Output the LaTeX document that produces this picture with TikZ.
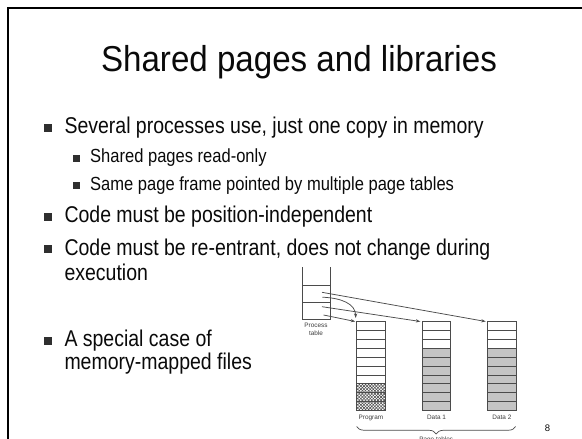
\documentclass[tikz,border=0pt]{standalone}
\usepackage{fontspec}
\setmainfont{Liberation Sans}
\newfontfamily\titlefont[FakeStretch=0.92]{Liberation Sans}
\newfontfamily\bodyfont[FakeStretch=0.855]{Liberation Sans}
\newfontfamily\subfont[FakeStretch=0.87]{Liberation Sans}
\usetikzlibrary{patterns.meta,decorations.pathreplacing,arrows.meta}
\definecolor{figline}{RGB}{75,75,75}
\definecolor{figgray}{RGB}{196,196,196}
\definecolor{textc}{RGB}{10,10,10}
\tikzset{
  bulone/.style={fill=textc!85, minimum size=8pt, inner sep=0pt, outer sep=0pt},
  bultwo/.style={fill=textc!85, minimum size=6.5pt, inner sep=0pt, outer sep=0pt},
  lvlone/.style={anchor=base west, inner sep=0pt, text=textc, font=\bodyfont\fontsize{22.8}{27}\selectfont},
  lvltwo/.style={anchor=base west, inner sep=0pt, text=textc, font=\subfont\fontsize{19}{22}\selectfont},
  figlabel/.style={anchor=base, inner sep=0pt, text=figline!80!black, font=\fontsize{6.4}{7.5}\selectfont},
  memcol/.style={draw=figline, line width=0.8pt, minimum width=28.4pt, minimum height=89pt, inner sep=0pt, outer sep=0pt},
  ptr/.style={draw=figline, line width=0.75pt, -{Stealth[length=4.5pt,width=3.2pt]}},
}
\begin{document}
\begin{tikzpicture}[x=1pt,y=-1pt]
\useasboundingbox (0,0) rectangle (582,439);
\clip (0,0) rectangle (582,439);
% slide frame
\draw[line width=2pt, black] (7.5,440) -- (7.5,7.5) -- (583,7.5);
% title
\node[anchor=base, inner sep=0pt, text=textc, font=\titlefont\fontsize{36}{43}\selectfont] (title) at (299,71.7) {Shared pages and libraries};
% bullets
\node[bulone] (s1) at (48,127.5) {};
\node[lvlone] (t1) at (64.3,133.3) {Several processes use, just one copy in memory};
\node[bultwo] (s2) at (76.7,158.4) {};
\node[lvltwo] (t2) at (90,162.7) {Shared pages read-only};
\node[bultwo] (s3) at (76.7,185.7) {};
\node[lvltwo] (t3) at (90,190) {Same page frame pointed by multiple page tables};
\node[bulone] (s4) at (48,216.9) {};
\node[lvlone] (t4) at (64.3,222.7) {Code must be position-independent};
\node[bulone] (s5) at (48,249.2) {};
\node[lvlone] (t5) at (64.3,255) {Code must be re-entrant, does not change during};
\node[lvlone] (t5b) at (64.3,280) {execution};
\node[bulone] (s6) at (48,340.9) {};
\node[lvlone] (t6) at (64.3,346.7) {A special case of};
\node[lvlone] (t6b) at (64.3,369.3) {memory-mapped files};
% process table
\draw[figline, line width=0.8pt] (302,267) -- (302,319.5) -- (330,319.5) -- (330,267);
\draw[figline, line width=0.8pt] (302,285) -- (330,285);
\draw[figline, line width=0.8pt] (302,302.5) -- (330,302.5);
\node[figlabel] (pl1) at (316,327.8) {Process};
\node[figlabel] (pl2) at (316,335.8) {table};
\coordinate (e1) at (322,292.3);
\coordinate (e2) at (322.3,297.2);
\coordinate (e3) at (322,306.7);
\coordinate (e4) at (323.5,315);
% memory columns
\foreach \nm/\x in {prog/356.7, dataa/422.3, datab/487.7}{
  \node[memcol, anchor=north west] (\nm) at (\x,321.5) {};
}
\foreach \x in {422.3, 487.7}{
  \fill[figgray] (\x,348.2) rectangle ++(28.4,62.3);
}
\fill[white] (356.7,383.8) rectangle (385.1,410.5);
\fill[pattern={Lines[angle=45,distance=2.2pt,line width=0.55pt]}, pattern color=figline] (356.7,383.8) rectangle (385.1,410.5);
\fill[pattern={Lines[angle=-45,distance=2.2pt,line width=0.55pt]}, pattern color=figline] (356.7,383.8) rectangle (385.1,410.5);
\foreach \x in {356.7, 422.3, 487.7}{
  \draw[figline, line width=0.8pt] (\x,321.5) rectangle ++(28.4,89);
  \foreach \i in {1,...,9}{
    \draw[figline, line width=0.8pt] (\x,321.5+\i*8.9) -- ++(28.4,0);
  }
}
\node[figlabel] (lp) at (prog.south) [yshift=-8.5pt] {Program};
\node[figlabel] (ld1) at (dataa.south) [yshift=-8.5pt] {Data 1};
\node[figlabel] (ld2) at (datab.south) [yshift=-8.5pt] {Data 2};
% pointers
\draw[ptr] (e1) -- ([xshift=-2pt]datab.north west);
\draw[ptr] (e2) .. controls (342,298) and (355.5,304) .. ([xshift=-1pt,yshift=3.5pt]prog.north west);
\draw[ptr] (e3) -- ([xshift=-2pt]dataa.north west);
\draw[ptr] (e4) -- ([xshift=-1.5pt]prog.north west);
% brace
\coordinate (bl) at (356.7,426.5);
\coordinate (br) at (515.7,426.5);
\draw[figline, line width=0.7pt, decorate, decoration={brace, mirror, amplitude=7.5pt}] (bl) -- (br);
\node[figlabel] (pt) at (436.2,441.3) {Page tables};
% page number
\node[inner sep=0pt, text=textc, font=\fontsize{9.5}{11}\selectfont] (pg) at (547.5,428.5) {8};
\end{tikzpicture}
\end{document}
